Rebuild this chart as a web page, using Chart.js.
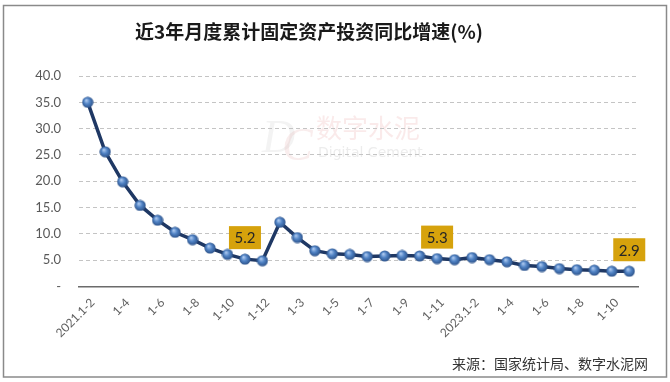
<!DOCTYPE html>
<html><head><meta charset="utf-8">
<script src="https://cdn.jsdelivr.net/npm/chart.js@4/dist/chart.umd.min.js"></script>
<style>html,body{margin:0;padding:0;background:#fff}#wrap{width:670px;height:382px;position:relative}</style>
</head><body><div id="wrap"><canvas id="c" width="670" height="382"></canvas></div>
<script>
const categories = ['2021.1-2','1-3','1-4','1-5','1-6','1-7','1-8','1-9','1-10','1-11','1-12',
  '2022.1-2','1-3','1-4','1-5','1-6','1-7','1-8','1-9','1-10','1-11','1-12',
  '2023.1-2','1-3','1-4','1-5','1-6','1-7','1-8','1-9','1-10','1-11'];
const growth = [35.0,25.6,19.9,15.4,12.6,10.3,8.9,7.3,6.1,5.2,4.9,
  12.2,9.3,6.8,6.2,6.1,5.7,5.8,5.9,5.8,5.3,5.1,
  5.5,5.1,4.7,4.0,3.8,3.4,3.2,3.1,2.9,2.9];
const yTicks = [0,5,10,15,20,25,30,35,40];
const highlighted = [9,20,31];
const titleText = '近3年月度累计固定资产投资同比增速(%)';
const sourceText = '来源：国家统计局、数字水泥网';

// sphere-like marker
const marker = document.createElement('canvas');
marker.width = 12; marker.height = 12;
(function(){
  const m = marker.getContext('2d');
  const g = m.createRadialGradient(4.5,4,0.5,6,6,6);
  g.addColorStop(0,'#A9C6EE');
  g.addColorStop(0.45,'#4F82C4');
  g.addColorStop(1,'#2A4E84');
  m.fillStyle = g;
  m.beginPath(); m.arc(6,6,5.6,0,Math.PI*2); m.fill();
})();

const deco = {
  id:'deco',
  beforeDraw(chart){
    const c = chart.ctx;
    c.save();
    // watermark
    c.fillStyle = 'rgba(190,190,190,0.18)';
    c.font = 'italic 46px "Liberation Serif"';
    c.textBaseline = 'alphabetic';
    c.fillText('D', 262, 152);
    c.fillStyle = 'rgba(220,140,140,0.16)';
    c.fillText('C', 282, 160);
    c.fillStyle = 'rgba(225,130,130,0.17)';
    c.font = '26px "Noto Sans CJK SC"';
    c.fillText('数字水泥', 316, 138);
    c.fillStyle = 'rgba(170,170,170,0.22)';
    c.font = '14px "DejaVu Sans"';
    c.fillText('Digital Cement', 318, 157);
    c.restore();
  },
  afterDraw(chart){
    const c = chart.ctx;
    const xs = chart.scales.x, ys = chart.scales.y;
    c.save();
    // border
    c.strokeStyle = '#8A8A8A'; c.lineWidth = 1.5;
    c.strokeRect(3.5, 5.5, 663, 371.5);
    // title
    c.fillStyle = '#1a1a1a';
    c.font = 'bold 19px "Noto Sans CJK SC"';
    c.textAlign = 'center'; c.textBaseline = 'middle';
    c.fillText(titleText, 309, 32);
    // source
    c.fillStyle = '#333';
    c.font = '14px "Noto Sans CJK SC"';
    c.textAlign = 'right';
    c.fillText(sourceText, 648, 364);
    // highlight boxes
    highlighted.forEach(i => {
      const x = xs.getPixelForValue(i);
      const y = ys.getPixelForValue(growth[i]) - 21.5;
      c.fillStyle = '#D6A20C';
      c.fillRect(x - 16, y - 11.5, 32, 23);
      c.fillStyle = '#262626';
      c.font = '15px Lato';
      c.textAlign = 'center'; c.textBaseline = 'middle';
      c.fillText(growth[i].toFixed(1), x, y + 1);
    });
    c.restore();
  }
};

Chart.defaults.font.family = 'Lato';
new Chart(document.getElementById('c'), {
  type:'line',
  data:{
    labels: categories,
    datasets:[{
      data: growth,
      borderColor:'#1F3864',
      borderWidth:3.5,
      pointStyle: marker,
      pointRadius:6,
      tension:0,
      fill:false
    }]
  },
  options:{
    responsive:false,
    animation:false,
    devicePixelRatio:1,
    layout:{padding:{left:0,right:32,top:76,bottom:0}},
    plugins:{legend:{display:false},title:{display:false},tooltip:{enabled:false}},
    scales:{
      x:{
        offset:true,
        grid:{display:false,drawTicks:false},
        border:{display:true,color:'#6B6B6B',width:1.5},
        ticks:{
          autoSkip:false, minRotation:45, maxRotation:45, padding:9, labelOffset:5,
          color:'#5f5f5f', font:{size:12},
          callback:(v,i)=> i%2===0 ? categories[i] : ''
        },
        afterFit:s=>{s.height = 95.5;}
      },
      y:{
        min:yTicks[0], max:yTicks[yTicks.length-1],
        afterBuildTicks:s=>{s.ticks = yTicks.map(v=>({value:v}));},
        grid:{drawTicks:false, color:ctx=> ctx.tick && ctx.tick.value===0 ? 'rgba(0,0,0,0)' : '#C4C4C4', lineWidth:1},
        border:{display:false, dash:[4,3]},
        ticks:{padding:18, color:'#595959', font:{size:13},
          callback:v=> v===0 ? '-' : Number(v).toFixed(1)},
        afterFit:s=>{s.width = 79;}
      }
    }
  },
  plugins:[deco]
});
</script></body></html>
